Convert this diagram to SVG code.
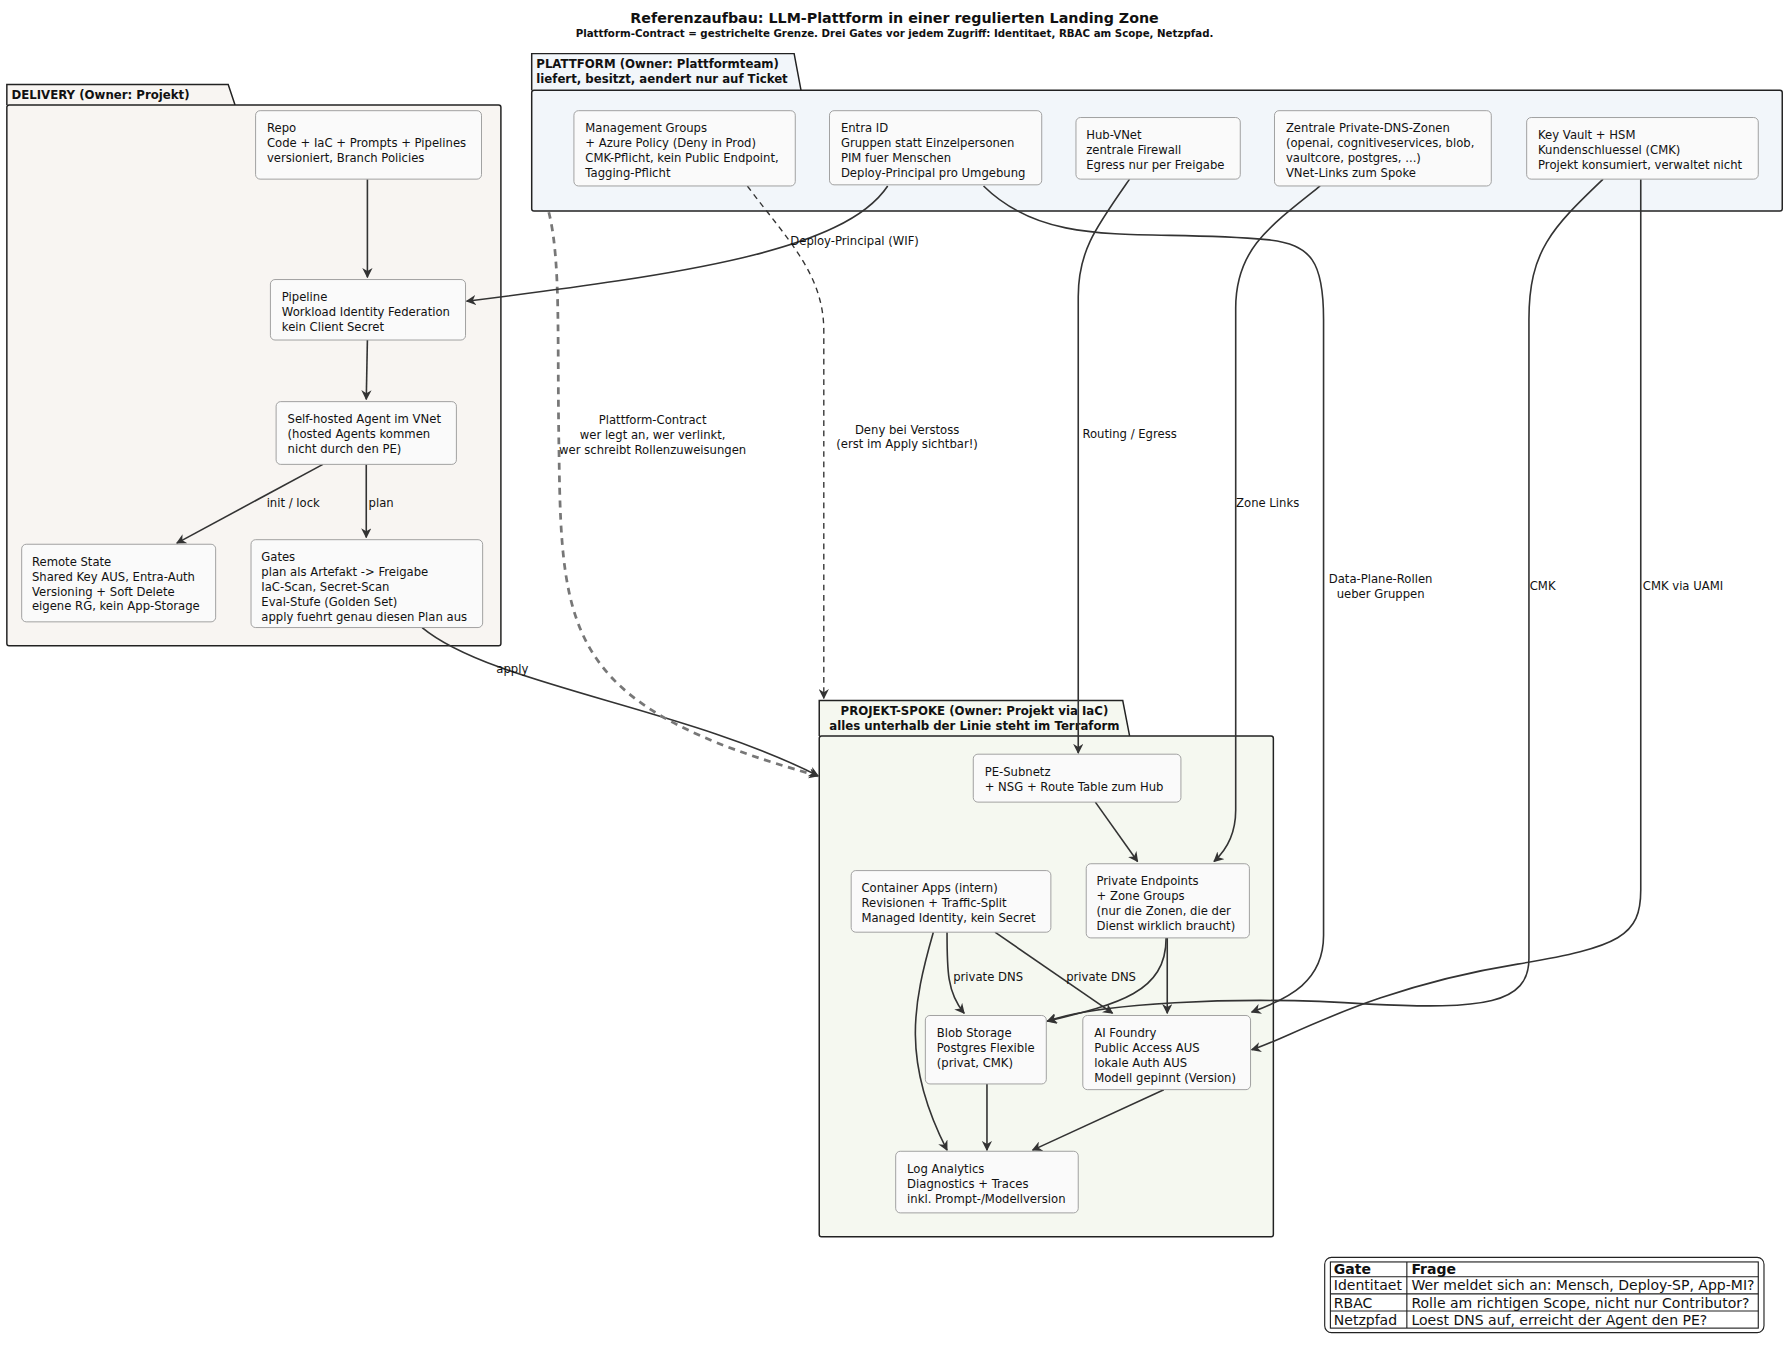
<svg xmlns="http://www.w3.org/2000/svg" width="1789" height="1353" viewBox="0 0 1789 1353">
<defs>
<marker id="ah" viewBox="0 0 10 10" refX="9" refY="5" markerWidth="9" markerHeight="9" orient="auto" markerUnits="userSpaceOnUse"><path d="M0,0 L10,5 L0,10 L3,5 z" fill="#333"/></marker>
<style>
text{font-family:"DejaVu Sans","Liberation Sans",sans-serif;fill:#111}
.n rect{fill:#fafafa;stroke:#999;stroke-width:0.8}
.n text{font-size:10.2px}
.pk{stroke:#222;stroke-width:1.3}
.pt{font-size:10.3px;font-weight:bold}
.e path{fill:none;stroke:#333;stroke-width:1.4;marker-end:url(#ah)}
.e path.d{stroke-dasharray:5,4;stroke-width:1.2}
.e path.c{stroke:#777;stroke-width:2.4;stroke-dasharray:6,5}
.l{font-size:10.2px}
.lg{font-size:12.3px}
</style>
</defs>
<rect width="1789" height="1353" fill="#fff"/>
<g transform="scale(1.141)">
<g id="title">
<text x="784" y="20" text-anchor="middle" font-size="12.5" font-weight="bold">Referenzaufbau: LLM-Plattform in einer regulierten Landing Zone</text>
<text x="784" y="32" text-anchor="middle" font-size="9" font-weight="bold">Plattform-Contract = gestrichelte Grenze. Drei Gates vor jedem Zugriff: Identitaet, RBAC am Scope, Netzpfad.</text>
</g>
<g id="pkg-delivery">
<path class="pk" d="M6,92 L6,74 L200,74 L206,92" fill="#f8f5f2"/>
<rect class="pk" x="6" y="92" width="433" height="474" rx="2" fill="#f8f5f2"/>
<text class="pt" x="10" y="87">DELIVERY (Owner: Projekt)</text>
</g>
<g id="pkg-plattform">
<path class="pk" d="M466,79 L466,47 L696,47 L702,79" fill="#f2f6fa"/>
<rect class="pk" x="466" y="79" width="1096" height="106" rx="2" fill="#f2f6fa"/>
<text class="pt" x="470" y="60">PLATTFORM (Owner: Plattformteam)</text>
<text class="pt" x="470" y="73">liefert, besitzt, aendert nur auf Ticket</text>
</g>
<g id="pkg-spoke">
<path class="pk" d="M718,645 L718,614 L984,614 L990,645" fill="#f5f8f0"/>
<rect class="pk" x="718" y="645" width="398" height="439" rx="2" fill="#f5f8f0"/>
<text class="pt" x="854" y="627" text-anchor="middle">PROJEKT-SPOKE (Owner: Projekt via IaC)</text>
<text class="pt" x="854" y="640" text-anchor="middle">alles unterhalb der Linie steht im Terraform</text>
</g>
<g class="e" id="connectors">
<path d="M322,157 L322,243"/>
<path d="M322,298 L321,350"/>
<path d="M283,407 L155,476"/>
<path d="M321,407 L321,471"/>
<path d="M370,550 C430,600 600,620 717,680"/>
<path class="c" d="M481,186 C492,230 488,300 490,400 C492,560 500,620 717,680"/>
<path class="d" d="M655,163 C690,210 722,240 722,290 L722,612"/>
<path d="M778,163 C740,220 600,240 409,264"/>
<path d="M862,163 C920,220 1000,200 1110,210 C1150,214 1160,230 1160,280 L1160,820 C1160,860 1130,875 1097,887"/>
<path d="M990,157 C960,200 945,220 945,260 L945,660"/>
<path d="M1157,163 C1110,200 1083,220 1083,270 L1083,710 C1083,730 1075,745 1064,755"/>
<path d="M1405,157 C1360,200 1340,220 1340,280 L1340,840 C1340,880 1300,885 1200,880 C1080,872 960,880 918,895"/>
<path d="M1438,157 L1438,780 C1438,820 1420,830 1330,845 C1200,866 1130,910 1097,920"/>
<path d="M960,703 L997,755"/>
<path d="M1022,822 C1022,870 980,880 918,895"/>
<path d="M1023,822 L1023,888"/>
<path d="M830,817 C830,850 830,870 845,888"/>
<path d="M872,817 L975,888"/>
<path d="M818,817 C800,880 790,930 830,1008"/>
<path d="M865,950 L865,1008"/>
<path d="M1020,955 L905,1008"/>
</g>
<g id="edge-labels">
<text class="l" x="257" y="444" text-anchor="middle">init / lock</text>
<text class="l" x="334" y="444" text-anchor="middle">plan</text>
<text class="l" x="449" y="590" text-anchor="middle">apply</text>
<text class="l" x="572" y="372" text-anchor="middle">Plattform-Contract</text>
<text class="l" x="572" y="385" text-anchor="middle">wer legt an, wer verlinkt,</text>
<text class="l" x="572" y="398" text-anchor="middle">wer schreibt Rollenzuweisungen</text>
<text class="l" x="795" y="380" text-anchor="middle">Deny bei Verstoss</text>
<text class="l" x="795" y="393" text-anchor="middle">(erst im Apply sichtbar!)</text>
<text class="l" x="749" y="215" text-anchor="middle">Deploy-Principal (WIF)</text>
<text class="l" x="1210" y="511" text-anchor="middle">Data-Plane-Rollen</text>
<text class="l" x="1210" y="524" text-anchor="middle">ueber Gruppen</text>
<text class="l" x="990" y="384" text-anchor="middle">Routing / Egress</text>
<text class="l" x="1111" y="444" text-anchor="middle">Zone Links</text>
<text class="l" x="1352" y="517" text-anchor="middle">CMK</text>
<text class="l" x="1475" y="517" text-anchor="middle">CMK via UAMI</text>
<text class="l" x="866" y="860" text-anchor="middle">private DNS</text>
<text class="l" x="965" y="860" text-anchor="middle">private DNS</text>
</g>
<g class="n" id="repo"><rect x="224" y="97" width="198" height="60" rx="4"/><text x="234" y="116">Repo</text><text x="234" y="129">Code + IaC + Prompts + Pipelines</text><text x="234" y="142">versioniert, Branch Policies</text></g>
<g class="n" id="pipeline"><rect x="237" y="245" width="171" height="53" rx="4"/><text x="247" y="264">Pipeline</text><text x="247" y="277">Workload Identity Federation</text><text x="247" y="290">kein Client Secret</text></g>
<g class="n" id="agent"><rect x="242" y="352" width="158" height="55" rx="4"/><text x="252" y="371">Self-hosted Agent im VNet</text><text x="252" y="384">(hosted Agents kommen</text><text x="252" y="397">nicht durch den PE)</text></g>
<g class="n" id="state"><rect x="19" y="477" width="170" height="68" rx="4"/><text x="28" y="496">Remote State</text><text x="28" y="509">Shared Key AUS, Entra-Auth</text><text x="28" y="522">Versioning + Soft Delete</text><text x="28" y="535">eigene RG, kein App-Storage</text></g>
<g class="n" id="gates"><rect x="220" y="473" width="203" height="77" rx="4"/><text x="229" y="492">Gates</text><text x="229" y="505">plan als Artefakt -&gt; Freigabe</text><text x="229" y="518">IaC-Scan, Secret-Scan</text><text x="229" y="531">Eval-Stufe (Golden Set)</text><text x="229" y="544">apply fuehrt genau diesen Plan aus</text></g>
<g class="n" id="mgmt"><rect x="503" y="97" width="194" height="66" rx="4"/><text x="513" y="116">Management Groups</text><text x="513" y="129">+ Azure Policy (Deny in Prod)</text><text x="513" y="142">CMK-Pflicht, kein Public Endpoint,</text><text x="513" y="155">Tagging-Pflicht</text></g>
<g class="n" id="entra"><rect x="727" y="97" width="186" height="65" rx="4"/><text x="737" y="116">Entra ID</text><text x="737" y="129">Gruppen statt Einzelpersonen</text><text x="737" y="142">PIM fuer Menschen</text><text x="737" y="155">Deploy-Principal pro Umgebung</text></g>
<g class="n" id="hub"><rect x="943" y="103" width="144" height="54" rx="4"/><text x="952" y="122">Hub-VNet</text><text x="952" y="135">zentrale Firewall</text><text x="952" y="148">Egress nur per Freigabe</text></g>
<g class="n" id="dns"><rect x="1117" y="97" width="190" height="66" rx="4"/><text x="1127" y="116">Zentrale Private-DNS-Zonen</text><text x="1127" y="129">(openai, cognitiveservices, blob,</text><text x="1127" y="142">vaultcore, postgres, ...)</text><text x="1127" y="155">VNet-Links zum Spoke</text></g>
<g class="n" id="kv"><rect x="1338" y="103" width="203" height="54" rx="4"/><text x="1348" y="122">Key Vault + HSM</text><text x="1348" y="135">Kundenschluessel (CMK)</text><text x="1348" y="148">Projekt konsumiert, verwaltet nicht</text></g>
<g class="n" id="pesub"><rect x="853" y="661" width="182" height="42" rx="4"/><text x="863" y="680">PE-Subnetz</text><text x="863" y="693">+ NSG + Route Table zum Hub</text></g>
<g class="n" id="pe"><rect x="952" y="757" width="143" height="65" rx="4"/><text x="961" y="776">Private Endpoints</text><text x="961" y="789">+ Zone Groups</text><text x="961" y="802">(nur die Zonen, die der</text><text x="961" y="815">Dienst wirklich braucht)</text></g>
<g class="n" id="aca"><rect x="746" y="763" width="175" height="54" rx="4"/><text x="755" y="782">Container Apps (intern)</text><text x="755" y="795">Revisionen + Traffic-Split</text><text x="755" y="808">Managed Identity, kein Secret</text></g>
<g class="n" id="blob"><rect x="811" y="890" width="106" height="60" rx="4"/><text x="821" y="909">Blob Storage</text><text x="821" y="922">Postgres Flexible</text><text x="821" y="935">(privat, CMK)</text></g>
<g class="n" id="ai"><rect x="949" y="890" width="147" height="65" rx="4"/><text x="959" y="909">AI Foundry</text><text x="959" y="922">Public Access AUS</text><text x="959" y="935">lokale Auth AUS</text><text x="959" y="948">Modell gepinnt (Version)</text></g>
<g class="n" id="log"><rect x="785" y="1009" width="160" height="54" rx="4"/><text x="795" y="1028">Log Analytics</text><text x="795" y="1041">Diagnostics + Traces</text><text x="795" y="1054">inkl. Prompt-/Modellversion</text></g>
<g id="legend">
<rect x="1161" y="1102" width="385" height="66" rx="6" fill="#fff" stroke="#222" stroke-width="1"/>
<rect x="1166" y="1106" width="375" height="58" fill="none" stroke="#222" stroke-width="1"/>
<path d="M1233,1106 L1233,1164 M1166,1119 L1541,1119 M1166,1134 L1541,1134 M1166,1149 L1541,1149" stroke="#222" stroke-width="1"/>
<text class="lg" x="1169" y="1117" font-weight="bold">Gate</text><text class="lg" x="1237" y="1117" font-weight="bold">Frage</text>
<text class="lg" x="1169" y="1131">Identitaet</text><text class="lg" x="1237" y="1131">Wer meldet sich an: Mensch, Deploy-SP, App-MI?</text>
<text class="lg" x="1169" y="1146">RBAC</text><text class="lg" x="1237" y="1146">Rolle am richtigen Scope, nicht nur Contributor?</text>
<text class="lg" x="1169" y="1161">Netzpfad</text><text class="lg" x="1237" y="1161">Loest DNS auf, erreicht der Agent den PE?</text>
</g>
</g>
</svg>
